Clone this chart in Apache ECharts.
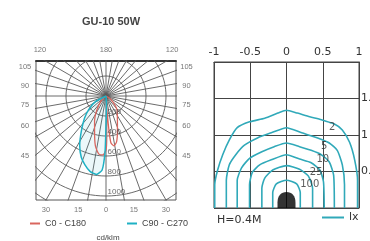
<!DOCTYPE html>
<html>
<head>
<meta charset="utf-8">
<script src="https://cdn.jsdelivr.net/npm/echarts@6/dist/echarts.min.js"></script>
<style>
  html, body { margin: 0; padding: 0; background: #fff; }
  #chart { width: 370px; height: 241px; }
</style>
</head>
<body>
<div id="chart"></div>
<script>
// ---- 左图: 配光曲线 (cd/klm) ----
// gamma: 与正下方夹角 (度), 左负右正
const redGamma = [-70, -45, -33, -25, -18, -12, -7, -3, 0, 1, 2, 3, 4, 5, 6, 9, 13, 18, 25, 38, 55, 70];
const redIntensity = [0, 70, 170, 270, 370, 510, 585, 590, 540, 420, 220, 60, 160, 360, 470, 505, 470, 370, 270, 180, 60, 0];
const cyanGamma = [-80, -62, -52, -44, -35, -28, -22, -17, -12, -7, -3, -1, 0, 2, 5, 10];
const cyanIntensity = [0, 120, 220, 310, 430, 560, 660, 720, 770, 790, 740, 560, 300, 120, 40, 0];

const ringValues = [200, 400, 600, 800, 1000, 1200];
const ringLabels = ['200', '400', '600', '800', '1000'];
const spokeStep = 10;
const sideAngles = [105, 90, 75, 60, 45];
const bottomAngles = [-30, -15, 0, 15, 30];
const topAngles = [-120, 180, 120];

// ---- 右图: 等照度曲线 (lx), x/y 单位 m ----
const isoOuter = [[-0.99, 0], [-0.99, 0.32], [-0.95, 0.52], [-0.88, 0.73], [-0.79, 0.93], [-0.68, 1.10], [-0.51, 1.18], [-0.30, 1.23], [-0.12, 1.30], [0, 1.34], [0.15, 1.30], [0.32, 1.25], [0.48, 1.21], [0.66, 1.15], [0.77, 1.07], [0.87, 0.90], [0.94, 0.66], [0.98, 0.38], [0.98, 0]];
const iso2 = [[-0.83, 0], [-0.83, 0.38], [-0.79, 0.59], [-0.70, 0.73], [-0.58, 0.86], [-0.40, 0.96], [-0.21, 1.03], [0, 1.10], [0.21, 1.03], [0.43, 0.96], [0.59, 0.89], [0.70, 0.79], [0.77, 0.59], [0.80, 0.32], [0.80, 0]];
const iso5 = [[-0.68, 0], [-0.68, 0.38], [-0.62, 0.55], [-0.51, 0.68], [-0.34, 0.77], [-0.17, 0.84], [0, 0.89], [0.18, 0.84], [0.34, 0.79], [0.48, 0.73], [0.59, 0.63], [0.65, 0.45], [0.66, 0]];
const iso10 = [[-0.51, 0], [-0.51, 0.32], [-0.47, 0.49], [-0.37, 0.59], [-0.21, 0.66], [0, 0.73], [0.18, 0.67], [0.34, 0.62], [0.46, 0.52], [0.51, 0.36], [0.52, 0]];
const iso25 = [[-0.34, 0], [-0.34, 0.27], [-0.30, 0.41], [-0.19, 0.52], [0, 0.58], [0.18, 0.53], [0.30, 0.44], [0.36, 0.27], [0.36, 0]];
const iso100 = [[-0.19, 0], [-0.19, 0.21], [-0.14, 0.33], [0, 0.38], [0.14, 0.33], [0.19, 0.21], [0.19, 0]];
const isoLabelText = ['2', '5', '10', '25', '100'];
const isoLabelPos = [[0.63, 1.10], [0.52, 0.85], [0.50, 0.66], [0.41, 0.49], [0.32, 0.32]];
const lampPos = [[0, 0]];

const chart = echarts.init(document.getElementById('chart'));
const deg = Math.PI / 180;
function polarToXY(g, I) {
  return [I * Math.sin(g * deg), -I * Math.cos(g * deg)];
}

const gridColor = '#5a5a5a';
const redColor = '#d9665e';
const cyanColor = '#1fb1c4';
const isoColor = '#30a9b9';
const series = [];

// 网格圆
ringValues.forEach(r => {
  const pts = [];
  for (let a = 0; a <= 360; a += 3) pts.push(polarToXY(a, r));
  series.push({
    type: 'line', xAxisIndex: 0, yAxisIndex: 0, data: pts, symbol: 'none', silent: true,
    lineStyle: { color: gridColor, width: 0.9 }, z: 1
  });
});
// 径向线
for (let a = 0; a < 360; a += spokeStep) {
  series.push({
    type: 'line', xAxisIndex: 0, yAxisIndex: 0, data: [[0, 0], polarToXY(a, 2000)], symbol: 'none', silent: true,
    lineStyle: { color: gridColor, width: 0.9 }, z: 1
  });
}

series.push({
  name: 'C0 - C180', type: 'line', xAxisIndex: 0, yAxisIndex: 0,
  data: redGamma.map((g, i) => polarToXY(g, redIntensity[i])),
  symbol: 'none', smooth: 0.2,
  lineStyle: { color: redColor, width: 1.3 }, itemStyle: { color: redColor }, z: 3
});
series.push({
  name: 'C90 - C270', type: 'line', xAxisIndex: 0, yAxisIndex: 0,
  data: cyanGamma.map((g, i) => polarToXY(g, cyanIntensity[i])),
  symbol: 'none', smooth: 0.2,
  lineStyle: { color: cyanColor, width: 1.5 }, itemStyle: { color: cyanColor },
  areaStyle: { color: 'rgba(31,177,196,0.12)' }, z: 3
});

// 角度标签
const angleLabelData = [];
sideAngles.forEach(a => {
  const y = -700 / Math.tan(a * deg) + 100;
  angleLabelData.push({ name: String(a), value: [-810, y] });
  angleLabelData.push({ name: String(a), value: [805, y] });
});
bottomAngles.forEach(a => {
  angleLabelData.push({ name: String(Math.abs(a)), value: [1040 * Math.tan(a * deg), -1140] });
});
topAngles.forEach(a => {
  const x = a === 180 ? 0 : Math.sign(a) * 350 / Math.tan(30 * deg) * 1.09;
  angleLabelData.push({ name: String(Math.abs(a)), value: [x, 460] });
});
series.push({
  type: 'scatter', xAxisIndex: 0, yAxisIndex: 0, data: angleLabelData, symbolSize: 1, clip: false, silent: true,
  itemStyle: { color: 'transparent' },
  label: { show: true, position: 'inside', formatter: '{b}', fontSize: 7.5, color: '#555', fontFamily: 'Liberation Sans' },
  z: 5
});
// 圆环数值
series.push({
  type: 'scatter', xAxisIndex: 0, yAxisIndex: 0, symbolSize: 1, clip: false, silent: true,
  data: ringLabels.map((t, i) => ({ name: t, value: [0, -ringValues[i] + 40] })),
  itemStyle: { color: 'transparent' },
  label: { show: true, position: 'right', distance: 1, formatter: '{b}', fontSize: 8, color: '#444', fontFamily: 'Liberation Sans' },
  z: 5
});

// 等照度曲线
[isoOuter, iso2, iso5, iso10, iso25, iso100].forEach(d => {
  series.push({
    name: 'lx', type: 'line', xAxisIndex: 1, yAxisIndex: 1, data: d, symbol: 'none', smooth: 0.2,
    lineStyle: { color: isoColor, width: 1.6 }, itemStyle: { color: isoColor }, z: 3
  });
});
series.push({
  type: 'scatter', xAxisIndex: 1, yAxisIndex: 1, symbolSize: 1, clip: false, silent: true,
  data: isoLabelText.map((t, i) => ({ name: t, value: isoLabelPos[i] })),
  itemStyle: { color: 'transparent' },
  label: { show: true, position: 'inside', formatter: '{b}', fontSize: 10, color: '#333', fontFamily: 'DejaVu Sans' },
  z: 5
});
// 灯具
series.push({
  type: 'scatter', xAxisIndex: 1, yAxisIndex: 1, data: lampPos, clip: false, silent: true,
  symbol: 'path://M0,20 L0,13 C0,5 4,0 10,0 C16,0 20,5 20,13 L20,20 Z',
  symbolSize: [18, 16], symbolOffset: [0, -8],
  itemStyle: { color: '#000' }, z: 6
});

const option = {
  animation: false,
  grid: [
    { left: 36, top: 61, width: 140, height: 139, show: true, borderColor: '#555', borderWidth: 1, outerBoundsMode: 'none', containLabel: false },
    { left: 214, top: 62, width: 145, height: 146, show: true, borderColor: '#444', borderWidth: 1, outerBoundsMode: 'none', containLabel: false }
  ],
  xAxis: [
    {
      gridIndex: 0, type: 'value', min: -700, max: 700, position: 'top',
      axisLine: { show: true, onZero: false, lineStyle: { color: '#333', width: 2 } },
      axisTick: { show: false }, axisLabel: { show: false }, splitLine: { show: false }
    },
    {
      gridIndex: 1, type: 'value', min: -1, max: 1, interval: 0.5, position: 'top',
      axisLine: { show: true, onZero: false, lineStyle: { color: '#444' } },
      axisTick: { show: false },
      axisLabel: { color: '#333', fontSize: 11, fontFamily: 'DejaVu Sans', margin: 4 },
      splitLine: { show: true, lineStyle: { color: '#444', width: 1 } }
    }
  ],
  yAxis: [
    { gridIndex: 0, type: 'value', min: -1040, max: 350, show: false },
    {
      gridIndex: 1, type: 'value', min: 0, max: 2, interval: 0.5, position: 'right',
      axisLine: { show: true, onZero: false, lineStyle: { color: '#444' } },
      axisTick: { show: false },
      axisLabel: { showMinLabel: false, showMaxLabel: false, color: '#333', fontSize: 11, fontFamily: 'DejaVu Sans', margin: 2 },
      splitLine: { show: true, lineStyle: { color: '#444', width: 1 } }
    }
  ],
  legend: [
    {
      data: ['C0 - C180'], left: 30, top: 219, padding: 0, selectedMode: false,
      icon: 'rect', itemWidth: 10, itemHeight: 2,
      textStyle: { fontSize: 9, color: '#444', fontFamily: 'Liberation Sans' }
    },
    {
      data: ['C90 - C270'], left: 127, top: 219, padding: 0, selectedMode: false,
      icon: 'rect', itemWidth: 10, itemHeight: 2,
      textStyle: { fontSize: 9, color: '#444', fontFamily: 'Liberation Sans' }
    },
    {
      data: ['lx'], left: 322, top: 212, padding: 0, selectedMode: false,
      icon: 'rect', itemWidth: 22, itemHeight: 2,
      textStyle: { fontSize: 11, color: '#333', fontFamily: 'DejaVu Sans' }
    }
  ],
  graphic: [
    {
      type: 'text', x: 111, y: 22, silent: true,
      style: { text: 'GU-10 50W', textAlign: 'center', align: 'center', textVerticalAlign: 'middle', verticalAlign: 'middle',
        font: 'bold 11px "Liberation Sans Narrow", "Liberation Sans", sans-serif', fill: '#444' }
    },
    {
      type: 'text', x: 217, y: 220, silent: true,
      style: { text: 'H=0.4M', textVerticalAlign: 'middle', verticalAlign: 'middle', font: '11px "DejaVu Sans"', fill: '#333' }
    },
    {
      type: 'text', x: 108, y: 238, silent: true,
      style: { text: 'cd/klm', textAlign: 'center', align: 'center', textVerticalAlign: 'middle', verticalAlign: 'middle',
        font: '8px "Liberation Sans"', fill: '#444' }
    }
  ],
  series: series
};

chart.setOption(option);
window.addEventListener('resize', () => chart.resize());
</script>
</body>
</html>
